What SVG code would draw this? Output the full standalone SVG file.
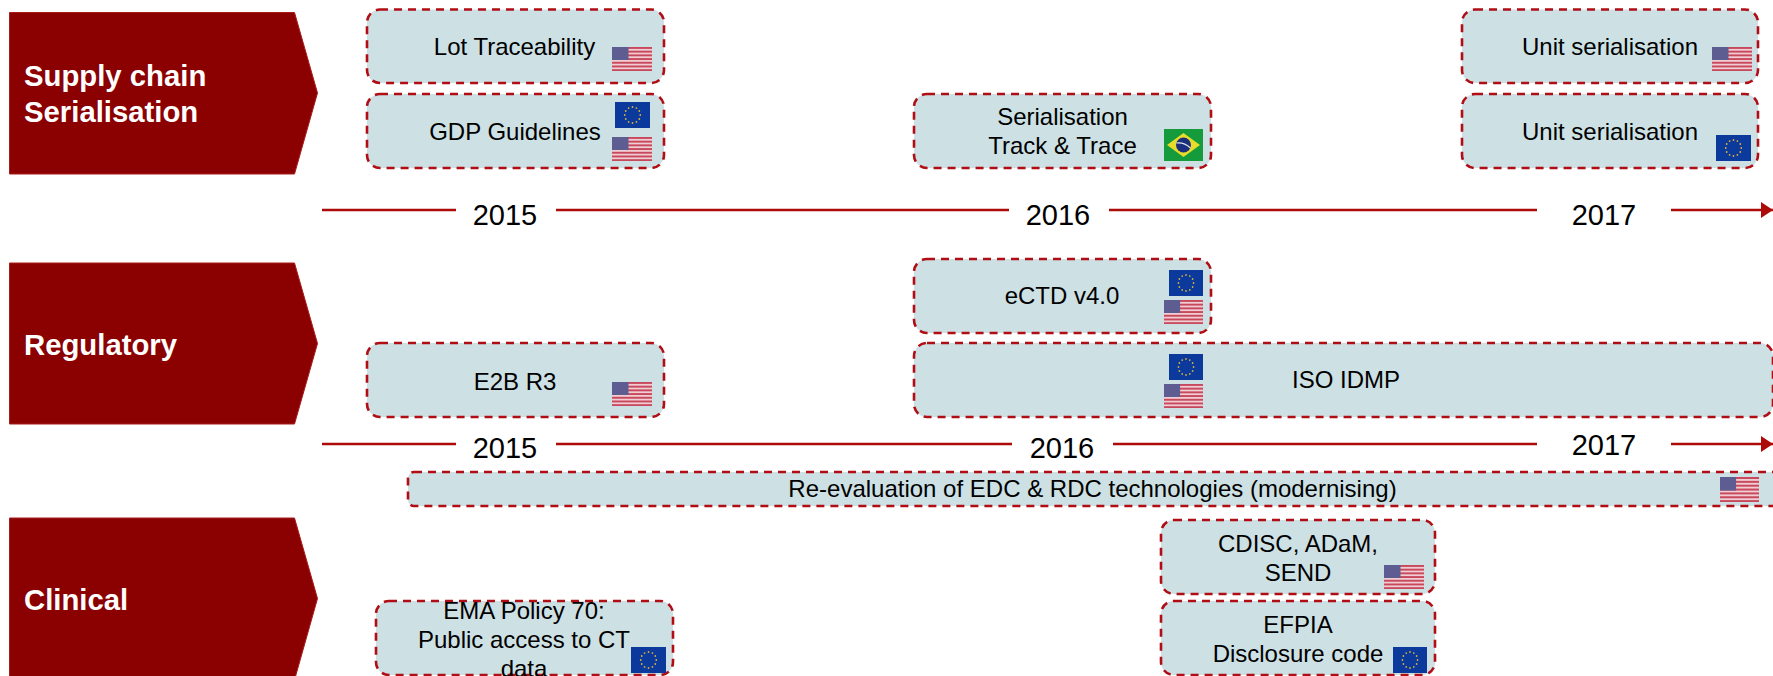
<svg xmlns="http://www.w3.org/2000/svg" width="1773" height="676" viewBox="0 0 1773 676">
<style>
text{font-family:"Liberation Sans",Arial,sans-serif;fill:#000;text-anchor:middle}
.t{font-size:24px}
.y{font-size:29px}
.h{font-size:29.3px;font-weight:bold;fill:#fff;text-anchor:start}
.hd{fill:#8b0000;stroke:#a81c1c;stroke-width:1}
.b{fill:#cde0e4;stroke:#b00d14;stroke-width:2.6;stroke-dasharray:8 6}
.l{stroke:#ad0a0a;stroke-width:2.6;fill:none}
</style>
<defs>
<marker id="ah" markerUnits="userSpaceOnUse" markerWidth="13" markerHeight="18" refX="12" refY="8" orient="auto"><path d="M0 0L12 8L0 16Z" fill="#ad0a0a"/></marker>
<symbol id="us" viewBox="0 0 40 24" preserveAspectRatio="none">
<rect width="40" height="24" fill="#f0cdd3"/>
<g fill="#c8485c"><rect y="0" width="40" height="1.9"/><rect y="3.7" width="40" height="1.9"/><rect y="7.4" width="40" height="1.9"/><rect y="11.1" width="40" height="1.9"/><rect y="14.8" width="40" height="1.9"/><rect y="18.5" width="40" height="1.9"/><rect y="22.2" width="40" height="1.8"/></g>
<rect width="16.5" height="13" fill="#5d5d92"/>
</symbol>
<symbol id="eu" viewBox="0 0 36 26" preserveAspectRatio="none">
<rect width="36" height="26" fill="#0b3a9c"/>
<g fill="#d8b33a"><circle cx="18" cy="5" r=".9"/><circle cx="22" cy="6.1" r=".9"/><circle cx="25" cy="9" r=".9"/><circle cx="26" cy="13" r=".9"/><circle cx="25" cy="17" r=".9"/><circle cx="22" cy="19.9" r=".9"/><circle cx="18" cy="21" r=".9"/><circle cx="14" cy="19.9" r=".9"/><circle cx="11" cy="17" r=".9"/><circle cx="10" cy="13" r=".9"/><circle cx="11" cy="9" r=".9"/><circle cx="14" cy="6.1" r=".9"/></g>
</symbol>
<symbol id="br" viewBox="0 0 39 32" preserveAspectRatio="none">
<rect width="39" height="32" fill="#159a3c"/>
<path d="M19.5 4L36 16L19.5 28L3 16Z" fill="#e8dc2a"/>
<circle cx="19.5" cy="16" r="7.5" fill="#1c2f7c"/>
<path d="M12.5 14Q20 13 26.5 19" stroke="#dfe6ee" stroke-width="1.2" fill="none"/>
</symbol>
</defs>
<rect width="1773" height="676" fill="#fff"/>
<g id="connectors">
<line class="l" x1="322" y1="210" x2="456" y2="210"/>
<line class="l" x1="556" y1="210" x2="1009" y2="210"/>
<line class="l" x1="1109" y1="210" x2="1537" y2="210"/>
<line class="l" x1="1671" y1="210" x2="1773" y2="210" marker-end="url(#ah)"/>
<line class="l" x1="322" y1="444" x2="456" y2="444"/>
<line class="l" x1="556" y1="444" x2="1012" y2="444"/>
<line class="l" x1="1113" y1="444" x2="1537" y2="444"/>
<line class="l" x1="1671" y1="444" x2="1773" y2="444" marker-end="url(#ah)"/>
</g>
<g id="years">
<text class="y" x="505" y="225">2015</text>
<text class="y" x="1058" y="225">2016</text>
<text class="y" x="1604" y="225">2017</text>
<text class="y" x="505" y="458">2015</text>
<text class="y" x="1062" y="458">2016</text>
<text class="y" x="1604" y="455">2017</text>
</g>
<g id="head-supply"><path class="hd" d="M9.5 12.5H294.5L317.5 93L294.5 174H9.5Z"/><text class="h" x="24" y="86">Supply chain</text><text class="h" x="24" y="122">Serialisation</text></g>
<g id="head-regulatory"><path class="hd" d="M9.5 263H294.5L317.5 343.5L294.5 424H9.5Z"/><text class="h" x="24" y="355">Regulatory</text></g>
<g id="head-clinical"><path class="hd" d="M9.5 518H294.5L317.5 598.5L294.5 680H9.5Z"/><text class="h" x="24" y="610">Clinical</text></g>
<g id="lot"><rect class="b" x="367" y="9.5" width="297" height="73.5" rx="13"/><text class="t" x="514.5" y="55">Lot Traceability</text><use href="#us" x="612" y="47" width="40" height="24"/></g>
<g id="gdp"><rect class="b" x="367" y="94" width="297" height="74" rx="13"/><text class="t" x="515" y="140">GDP Guidelines</text><use href="#eu" x="615" y="102" width="35" height="26"/><use href="#us" x="612" y="137" width="40" height="24"/></g>
<g id="serial"><rect class="b" x="914" y="94" width="297" height="74" rx="13"/><text class="t" x="1062.5" y="125">Serialisation</text><text class="t" x="1062.5" y="154">Track &amp; Trace</text><use href="#br" x="1164" y="129" width="39" height="32"/></g>
<g id="unit-us"><rect class="b" x="1462" y="9.5" width="296" height="73.5" rx="13"/><text class="t" x="1610" y="55">Unit serialisation</text><use href="#us" x="1712" y="47" width="40" height="24"/></g>
<g id="unit-eu"><rect class="b" x="1462" y="94" width="296" height="74" rx="13"/><text class="t" x="1610" y="140">Unit serialisation</text><use href="#eu" x="1716" y="135" width="35" height="26"/></g>
<g id="ectd"><rect class="b" x="914" y="259" width="297" height="74" rx="13"/><text class="t" x="1062" y="304">eCTD v4.0</text><use href="#eu" x="1169" y="270" width="34" height="26"/><use href="#us" x="1164" y="300" width="39" height="24"/></g>
<g id="idmp"><rect class="b" x="914" y="343" width="859" height="74" rx="13"/><text class="t" x="1346" y="388">ISO IDMP</text><use href="#eu" x="1169" y="354" width="34" height="26"/><use href="#us" x="1164" y="384" width="39" height="24"/></g>
<g id="e2b"><rect class="b" x="367" y="343" width="297" height="74" rx="13"/><text class="t" x="515" y="390">E2B R3</text><use href="#us" x="612" y="382" width="40" height="24"/></g>
<g id="edc"><rect class="b" x="408" y="472" width="1380" height="34" rx="6"/><text class="t" x="1092.5" y="497">Re-evaluation of EDC &amp; RDC technologies (modernising)</text><use href="#us" x="1720" y="477" width="39" height="25"/></g>
<g id="cdisc"><rect class="b" x="1161" y="520" width="274" height="74" rx="13"/><text class="t" x="1298" y="552">CDISC, ADaM,</text><text class="t" x="1298" y="581">SEND</text><use href="#us" x="1384" y="565" width="40" height="24"/></g>
<g id="efpia"><rect class="b" x="1161" y="601" width="274" height="74" rx="13"/><text class="t" x="1298" y="633">EFPIA</text><text class="t" x="1298" y="662">Disclosure code</text><use href="#eu" x="1393" y="647" width="34" height="26"/></g>
<g id="ema"><rect class="b" x="376" y="601" width="297" height="74" rx="13"/><text class="t" x="524" y="619">EMA Policy 70:</text><text class="t" x="524" y="648">Public access to CT</text><text class="t" x="524" y="677">data</text><use href="#eu" x="631" y="647" width="35" height="26"/></g>
</svg>
